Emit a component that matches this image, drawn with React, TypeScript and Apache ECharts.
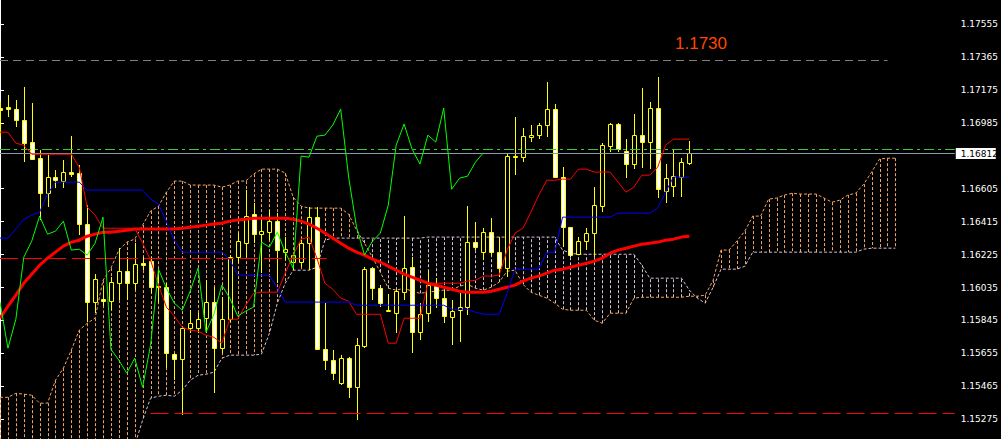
import React, { useEffect, useRef } from "react";
import * as echarts from "echarts";

// ---- data (bar index k is the bar's position, 8px apart) ----
const openP = [1.17070, 1.17076, 1.17064, 1.17001, 1.16874, 1.16781, 1.16579, 1.16672, 1.16649, 1.16701,
  1.16695, 1.16401, 1.15951, 1.15968, 1.15956, 1.16060, 1.16129, 1.16060, 1.16175, 1.16187,
  1.16043, 1.16037, 1.15651, 1.15622, 1.15800, 1.15800, 1.15858, 1.15951, 1.15685, 1.15852,
  1.16210, 1.16291, 1.16458, 1.16343, 1.16354, 1.16418, 1.16239, 1.16181, 1.16181, 1.16291,
  1.16441, 1.15679, 1.15616, 1.15483, 1.15627, 1.15460, 1.15697, 1.16147, 1.16031, 1.15899,
  1.15887, 1.16008, 1.16152, 1.15777, 1.15887, 1.16043, 1.15974, 1.15864, 1.15904, 1.15922,
  1.16297, 1.16239, 1.16354, 1.16239, 1.16147, 1.16793, 1.16787, 1.16903, 1.16914, 1.16972,
  1.17064, 1.16672, 1.16383, 1.16227, 1.16302, 1.16349, 1.16504, 1.16851, 1.16978, 1.16822,
  1.16747, 1.16914, 1.16874, 1.17070, 1.16591, 1.16620, 1.16672, 1.16753];
const highP = [1.17105, 1.17145, 1.17116, 1.17191, 1.17099, 1.16828, 1.16799, 1.16712, 1.16770, 1.16908,
  1.16741, 1.16510, 1.16112, 1.16043, 1.16095, 1.16262, 1.16210, 1.16291, 1.16210, 1.16210,
  1.16135, 1.16060, 1.15656, 1.15806, 1.15904, 1.15887, 1.16077, 1.16037, 1.15979, 1.16222,
  1.16349, 1.16597, 1.16522, 1.16441, 1.16481, 1.16464, 1.16326, 1.16233, 1.16308, 1.16499,
  1.16499, 1.15945, 1.15674, 1.15645, 1.15633, 1.15743, 1.16152, 1.16152, 1.16049, 1.15997,
  1.16020, 1.16447, 1.16210, 1.15945, 1.16135, 1.16089, 1.16020, 1.15962, 1.16002, 1.16504,
  1.16412, 1.16377, 1.16435, 1.16326, 1.16810, 1.17018, 1.16954, 1.16972, 1.16983, 1.17220,
  1.17093, 1.16729, 1.16383, 1.16326, 1.16377, 1.16614, 1.16868, 1.16983, 1.16983, 1.16891,
  1.17035, 1.17185, 1.17105, 1.17249, 1.16747, 1.16834, 1.16781, 1.16879];
const lowP = [1.16903, 1.17018, 1.16960, 1.16758, 1.16770, 1.16424, 1.16499, 1.16608, 1.16608, 1.16672,
  1.16337, 1.15835, 1.15887, 1.15927, 1.15904, 1.15962, 1.15962, 1.16020, 1.16135, 1.16002,
  1.15945, 1.15570, 1.15500, 1.15298, 1.15771, 1.15771, 1.15771, 1.15425, 1.15656, 1.15835,
  1.16175, 1.16210, 1.16291, 1.16118, 1.16308, 1.16060, 1.16193, 1.16135, 1.16152, 1.16135,
  1.15674, 1.15558, 1.15500, 1.15472, 1.15397, 1.15270, 1.15685, 1.15962, 1.15922, 1.15893,
  1.15771, 1.15962, 1.15656, 1.15731, 1.15835, 1.15916, 1.15829, 1.15702, 1.15720, 1.15876,
  1.16251, 1.16193, 1.16222, 1.16095, 1.16095, 1.16683, 1.16758, 1.16874, 1.16891, 1.16903,
  1.16666, 1.16268, 1.16210, 1.16222, 1.16251, 1.16210, 1.16470, 1.16816, 1.16816, 1.16666,
  1.16718, 1.16724, 1.16718, 1.16551, 1.16522, 1.16556, 1.16556, 1.16741];
const closeP = [1.17058, 1.17064, 1.17001, 1.16868, 1.16776, 1.16579, 1.16672, 1.16654, 1.16701, 1.16689,
  1.16401, 1.15951, 1.16083, 1.15956, 1.16066, 1.16129, 1.16060, 1.16170, 1.16164, 1.16037,
  1.16037, 1.15656, 1.15622, 1.15800, 1.15829, 1.15852, 1.15951, 1.15685, 1.15852, 1.16210,
  1.16302, 1.16447, 1.16343, 1.16360, 1.16418, 1.16251, 1.16256, 1.16222, 1.16291, 1.16441,
  1.15679, 1.15616, 1.15541, 1.15627, 1.15460, 1.15702, 1.16141, 1.16031, 1.15945, 1.15904,
  1.16014, 1.16147, 1.15777, 1.15881, 1.16049, 1.15974, 1.15870, 1.15899, 1.15922, 1.16297,
  1.16268, 1.16354, 1.16239, 1.16147, 1.16793, 1.16787, 1.16908, 1.16914, 1.16972, 1.17064,
  1.16672, 1.16383, 1.16222, 1.16302, 1.16349, 1.16510, 1.16856, 1.16978, 1.16834, 1.16747,
  1.16914, 1.16874, 1.17070, 1.16602, 1.16666, 1.16677, 1.16758, 1.16812];

const tenkan = [1.16931, 1.16931, 1.16868, 1.16856, 1.16804, 1.16804, 1.16804, 1.16804, 1.16804, 1.16804,
  1.16729, 1.16499, 1.16452, 1.16377, 1.16377, 1.16377, 1.16377, 1.16377, 1.16291, 1.16193,
  1.16049, 1.15922, 1.15870, 1.15806, 1.15789, 1.15783, 1.15760, 1.15748, 1.15714, 1.15852,
  1.15852, 1.15933, 1.16002, 1.16008, 1.16008, 1.16008, 1.16118, 1.16222, 1.16314, 1.16326,
  1.16204, 1.16060, 1.16025, 1.15974, 1.15956, 1.15881, 1.15881, 1.15881, 1.15881, 1.15714,
  1.15714, 1.15858, 1.15858, 1.15858, 1.16060, 1.16060, 1.16060, 1.16060, 1.16060, 1.16072,
  1.16077, 1.16101, 1.16101, 1.16106, 1.16251, 1.16349, 1.16377, 1.16470, 1.16568, 1.16654,
  1.16654, 1.16660, 1.16660, 1.16718, 1.16718, 1.16701, 1.16701, 1.16701, 1.16643, 1.16585,
  1.16614, 1.16683, 1.16683, 1.16729, 1.16856, 1.16891, 1.16891, 1.16891];
const kijun = [1.16320, 1.16320, 1.16372, 1.16429, 1.16452, 1.16470, 1.16574, 1.16643, 1.16643, 1.16643,
  1.16643, 1.16597, 1.16597, 1.16597, 1.16597, 1.16597, 1.16597, 1.16597, 1.16597, 1.16545,
  1.16516, 1.16412, 1.16308, 1.16239, 1.16239, 1.16239, 1.16239, 1.16239, 1.16239, 1.16193,
  1.16106, 1.16106, 1.16106, 1.16106, 1.16106, 1.16031, 1.15951, 1.15951, 1.15951, 1.15951,
  1.15951, 1.15951, 1.15951, 1.15951, 1.15951, 1.15933, 1.15933, 1.15933, 1.15933, 1.15933,
  1.15933, 1.15933, 1.15933, 1.15933, 1.15933, 1.15933, 1.15933, 1.15910, 1.15910, 1.15910,
  1.15893, 1.15881, 1.15881, 1.15881, 1.16002, 1.16141, 1.16141, 1.16141, 1.16141, 1.16239,
  1.16239, 1.16441, 1.16441, 1.16441, 1.16441, 1.16441, 1.16441, 1.16441, 1.16464, 1.16464,
  1.16464, 1.16464, 1.16464, 1.16493, 1.16585, 1.16672, 1.16672, 1.16672];
const movingAvg = [1.15858, 1.15927, 1.15991, 1.16060, 1.16112, 1.16164, 1.16204, 1.16239, 1.16274, 1.16297,
  1.16308, 1.16331, 1.16343, 1.16354, 1.16354, 1.16360, 1.16366, 1.16372, 1.16372, 1.16372,
  1.16372, 1.16372, 1.16372, 1.16377, 1.16383, 1.16389, 1.16395, 1.16401, 1.16406, 1.16418,
  1.16424, 1.16429, 1.16435, 1.16435, 1.16435, 1.16435, 1.16435, 1.16429, 1.16418, 1.16401,
  1.16377, 1.16349, 1.16320, 1.16291, 1.16262, 1.16239, 1.16222, 1.16199, 1.16181, 1.16158,
  1.16135, 1.16112, 1.16095, 1.16077, 1.16060, 1.16049, 1.16037, 1.16025, 1.16014, 1.16008,
  1.16008, 1.16008, 1.16014, 1.16025, 1.16037, 1.16049, 1.16072, 1.16089, 1.16101, 1.16118,
  1.16135, 1.16141, 1.16152, 1.16164, 1.16175, 1.16187, 1.16204, 1.16233, 1.16251, 1.16262,
  1.16274, 1.16285, 1.16291, 1.16297, 1.16308, 1.16314, 1.16326, 1.16331];
const spanA = [1.15402, 1.15402, 1.15425, 1.15420, 1.15414, 1.15368, 1.15368, 1.15500, 1.15570, 1.15674,
  1.15789, 1.15829, 1.15858, 1.16077, 1.16147, 1.16251, 1.16297, 1.16314, 1.16395, 1.16476,
  1.16504, 1.16585, 1.16649, 1.16649, 1.16626, 1.16626, 1.16626, 1.16626, 1.16614, 1.16626,
  1.16649, 1.16649, 1.16689, 1.16718, 1.16718, 1.16718, 1.16695, 1.16556, 1.16504, 1.16493,
  1.16493, 1.16493, 1.16493, 1.16493, 1.16458, 1.16366, 1.16291, 1.16210, 1.16124, 1.16031,
  1.16020, 1.16031, 1.16014, 1.16002, 1.16008, 1.16014, 1.16020, 1.16020, 1.16043, 1.16054,
  1.16031, 1.16020, 1.16037, 1.16066, 1.16129, 1.16135, 1.16054, 1.16008, 1.15991, 1.15974,
  1.15945, 1.15910, 1.15904, 1.15904, 1.15904, 1.15847, 1.15829, 1.15887, 1.15887, 1.15887,
  1.15974, 1.15979, 1.15979, 1.15979, 1.15979, 1.15979, 1.15979, 1.15985, 1.15985, 1.15991,
  1.16077, 1.16251, 1.16251, 1.16303, 1.16360, 1.16447, 1.16447, 1.16545, 1.16551, 1.16568,
  1.16579, 1.16574, 1.16574, 1.16574, 1.16551, 1.16527, 1.16539, 1.16568, 1.16579, 1.16631,
  1.16701, 1.16776, 1.16781, 1.16781];
const spanB = [1.15050, 1.15050, 1.15050, 1.15050, 1.15050, 1.15050, 1.15050, 1.15050, 1.15050, 1.15050,
  1.15050, 1.15050, 1.15050, 1.15050, 1.15050, 1.15050, 1.15050, 1.15125, 1.15270, 1.15397,
  1.15408, 1.15414, 1.15408, 1.15443, 1.15500, 1.15529, 1.15535, 1.15547, 1.15627, 1.15645,
  1.15645, 1.15645, 1.15645, 1.15651, 1.15771, 1.15945, 1.16060, 1.16135, 1.16135, 1.16135,
  1.16152, 1.16308, 1.16320, 1.16320, 1.16320, 1.16320, 1.16320, 1.16320, 1.16320, 1.16320,
  1.16320, 1.16320, 1.16320, 1.16320, 1.16326, 1.16326, 1.16326, 1.16326, 1.16326, 1.16326,
  1.16326, 1.16326, 1.16326, 1.16326, 1.16326, 1.16326, 1.16326, 1.16326, 1.16326, 1.16326,
  1.16326, 1.16251, 1.16233, 1.16227, 1.16227, 1.16227, 1.16227, 1.16227, 1.16227, 1.16227,
  1.16227, 1.16164, 1.16089, 1.16089, 1.16089, 1.16089, 1.16089, 1.16020, 1.15974, 1.15945,
  1.16037, 1.16141, 1.16141, 1.16141, 1.16158, 1.16239, 1.16239, 1.16239, 1.16239, 1.16239,
  1.16239, 1.16239, 1.16239, 1.16239, 1.16239, 1.16239, 1.16239, 1.16239, 1.16239, 1.16256,
  1.16262, 1.16262, 1.16262, 1.16262];
const chikouShift = 26;

const priceTicks = [1.15275, 1.15465, 1.15655, 1.15845, 1.16035, 1.16225, 1.16415, 1.16605,
  1.16985, 1.17175, 1.17365, 1.17555];
const bidPrice = 1.16812;
const greenLevel = 1.16834;
const topLevel = 1.17347;
const redLevelUpper = 1.16204;
const redLevelLower = 1.15310;
const annotationText = "1.1730";

export default function App() {
  const ref = useRef<HTMLDivElement>(null);
  useEffect(() => {
    document.body.style.margin = "0";
    const chart = echarts.init(ref.current!, null, { renderer: "svg" });
    const candles = openP.map((o, i) => [i, o, highP[i], lowP[i], closeP[i]]);
    const cloud = spanA.map((a, i) => [i, a, spanB[i]]);
    const chikou = closeP.slice(chikouShift).map((c, i) => [i, c]);
    const toXY = (arr: number[]) => arr.map((v, i) => [i, v]);
    const none = { show: false };
    const xEnd = 120.5;

    chart.setOption({
      animation: false,
      backgroundColor: "#000000",
      grid: { left: 0, right: 37, top: 0, bottom: 0 },
      xAxis: { type: "value", min: 0, max: xEnd, show: false },
      yAxis: {
        type: "value",
        position: "right",
        min: 1.151614,
        max: 1.176934,
        splitLine: none,
        axisLine: { show: true, lineStyle: { color: "#ffffff", width: 1 } },
        axisTick: { show: true, customValues: priceTicks, length: 4, lineStyle: { color: "#ffffff" } },
        axisLabel: {
          customValues: priceTicks,
          formatter: (v: number) => v.toFixed(5),
          color: "#ffffff",
          fontSize: 9,
          fontFamily: "DejaVu Sans",
          margin: 6,
        },
      },
      series: [
        {
          type: "custom",
          name: "cloud",
          z: 1,
          clip: true,
          data: cloud,
          encode: { x: 0, y: [1, 2] },
          renderItem: (params: any, api: any) => {
            const k = api.value(0);
            const a = api.value(1);
            const b = api.value(2);
            const p1 = api.coord([k, a]);
            const p2 = api.coord([k, b]);
            const x = Math.round(p1[0]) + 0.5;
            return {
              type: "line",
              shape: { x1: x, y1: p1[1], x2: x, y2: p2[1] },
              style: { stroke: a >= b ? "#F4A460" : "#D8BFD8", lineWidth: 1, lineDash: [3, 2] },
            };
          },
        },
        {
          type: "line", name: "spanA", z: 2, data: toXY(spanA), symbol: "none",
          lineStyle: { color: "#F4A460", width: 1, type: [3, 2] },
        },
        {
          type: "line", name: "spanB", z: 2, data: toXY(spanB), symbol: "none",
          lineStyle: { color: "#D8BFD8", width: 1, type: [3, 2] },
        },
        {
          type: "custom",
          name: "candles",
          z: 3,
          clip: true,
          data: candles,
          encode: { x: 0, y: [1, 2, 3, 4] },
          renderItem: (params: any, api: any) => {
            const k = api.value(0);
            const o = api.value(1);
            const h = api.value(2);
            const l = api.value(3);
            const c = api.value(4);
            const ph = api.coord([k, h]);
            const pl = api.coord([k, l]);
            const po = api.coord([k, o]);
            const pc = api.coord([k, c]);
            const x = Math.round(ph[0]);
            const top = Math.round(Math.min(po[1], pc[1]));
            const bot = Math.round(Math.max(po[1], pc[1]));
            const bull = c > o;
            return {
              type: "group",
              children: [
                {
                  type: "line",
                  shape: { x1: x + 0.5, y1: Math.round(ph[1]), x2: x + 0.5, y2: Math.round(pl[1]) },
                  style: { stroke: "#FFFF00", lineWidth: 1 },
                },
                {
                  type: "rect",
                  shape: { x: x - 1.5, y: top + 0.5, width: 4, height: Math.max(1, bot - top) },
                  style: { fill: bull ? "#000000" : "#FFFFFF", stroke: "#FFFF00", lineWidth: 1 },
                },
              ],
            };
          },
        },
        {
          type: "line", name: "ma", z: 4, data: toXY(movingAvg), symbol: "none",
          lineStyle: { color: "#FF0000", width: 3 },
        },
        {
          type: "line", name: "tenkan", z: 5, data: toXY(tenkan), symbol: "none",
          lineStyle: { color: "#FF0000", width: 1 },
        },
        {
          type: "line", name: "kijun", z: 5, data: toXY(kijun), symbol: "none",
          lineStyle: { color: "#0000FF", width: 1 },
        },
        {
          type: "line", name: "chikou", z: 5, data: chikou, symbol: "none",
          lineStyle: { color: "#00FF00", width: 1 },
        },
        {
          type: "line",
          name: "levels",
          z: 6,
          data: [],
          markLine: {
            silent: true,
            symbol: ["none", "none"],
            animation: false,
            label: { show: false },
            data: [
              [
                { coord: [0, topLevel], lineStyle: { color: "#808080", width: 1, type: [8, 5] } },
                { coord: [112, topLevel] },
              ],
              [
                { coord: [0, redLevelUpper], lineStyle: { color: "#FF0000", width: 1, type: [18, 6] } },
                { coord: [41.25, redLevelUpper] },
              ],
              [
                { coord: [19, redLevelLower], lineStyle: { color: "#FF0000", width: 1, type: [18, 6] } },
                { coord: [xEnd, redLevelLower] },
              ],
              [
                { coord: [0, greenLevel], lineStyle: { color: "#33CC33", width: 1, type: [10, 4, 3, 4] } },
                { coord: [xEnd, greenLevel] },
              ],
              [
                { coord: [0, bidPrice], lineStyle: { color: "#8C9AA8", width: 1, type: "solid" } },
                { coord: [xEnd, bidPrice] },
              ],
            ],
          },
        },
      ],
    });

    // current-price tag and annotation, positioned through the chart's own scale
    const bidY = chart.convertToPixel({ yAxisIndex: 0 }, bidPrice) as number;
    const axisX = chart.convertToPixel({ xAxisIndex: 0 }, xEnd) as number;
    chart.setOption({
      graphic: [
        {
          type: "text",
          left: 675,
          top: 35,
          z: 100,
          style: { text: annotationText, fill: "#ff4500", fontSize: 17, fontFamily: "Liberation Sans" },
        },
        {
          type: "rect",
          z: 100,
          shape: { x: axisX + 1, y: Math.round(bidY) - 5, width: 40, height: 11 },
          style: { fill: "#ffffff" },
        },
        {
          type: "text",
          z: 101,
          x: axisX + 6,
          y: Math.round(bidY) + 0.5,
          style: {
            text: bidPrice.toFixed(5),
            fill: "#000000",
            fontSize: 9,
            fontFamily: "DejaVu Sans",
            verticalAlign: "middle",
            align: "left",
          },
        },
      ],
    });
    return () => chart.dispose();
  }, []);
  return <div ref={ref} style={{ position: "fixed", left: 0, top: 0, width: 1001, height: 439 }} />;
}
